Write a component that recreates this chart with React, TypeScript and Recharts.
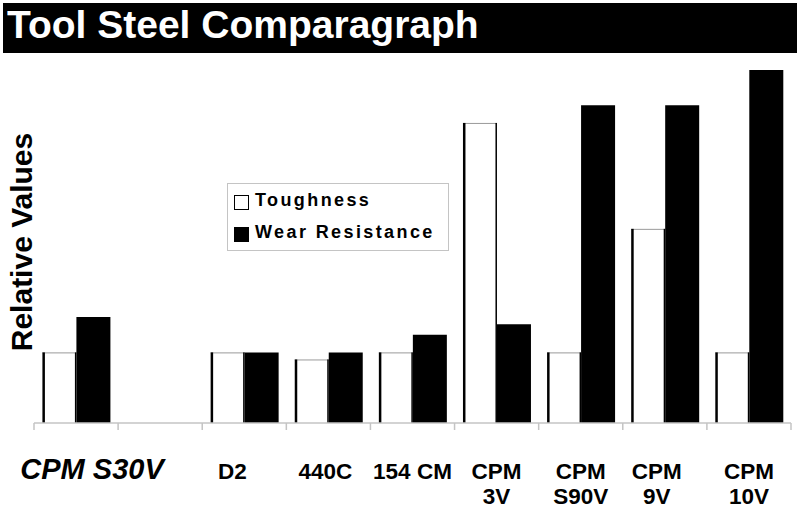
import { BarChart, Bar, XAxis, YAxis, Legend } from 'recharts'

const categories = ['CPM S30V', 'blank', 'D2', '440C', '154 CM', 'CPM 3V', 'CPM S90V', 'CPM 9V', 'CPM 10V']
const tickLabels = [['CPM S30V'], [], ['D2'], ['440C'], ['154 CM'], ['CPM', '3V'], ['CPM', 'S90V'], ['CPM', '9V'], ['CPM', '10V']]
const toughness = [2, null, 2, 1.8, 2, 8.5, 2, 5.5, 2]
const wearResistance = [3, null, 2, 2, 2.5, 2.8, 9, 9, 10]

const data = categories.map((name, i) => ({
  name,
  toughness: toughness[i],
  wear: wearResistance[i],
}))

const FONT = '"Liberation Sans", Arial, sans-serif'
const AXIS_GREY = '#c4c4c4'

// small horizontal nudges so the labels sit where the original has them
const labelNudge: Record<string, number> = { 'CPM S30V': 16, D2: -12, '440C': -3, 'CPM 9V': -8 }

function WhiteBar(props: any) {
  const { x, y, width, height } = props
  if (!height || height <= 0) return null
  return (
    <g>
      <rect x={x} y={y} width={width} height={height} fill="#fff" />
      <line x1={x} x2={x + width} y1={y + 0.5} y2={y + 0.5} stroke="#9a9a9a" strokeWidth={1} />
      <rect x={x} y={y} width={2.5} height={height} fill="#000" />
      <rect x={x + width - 1.5} y={y} width={1.5} height={height} fill="#000" />
    </g>
  )
}

function CategoryTick(props: any) {
  const { x, y, payload, index, visibleTicksCount } = props
  const half = payload.offset || 42
  const lines = tickLabels[index] || []
  const first = payload.value === 'CPM S30V'
  const dx = labelNudge[payload.value] || 0
  return (
    <g>
      <line x1={x - half} x2={x - half} y1={y} y2={y + 7} stroke={AXIS_GREY} strokeWidth={1.5} />
      {index === visibleTicksCount - 1 && (
        <line x1={x + half} x2={x + half} y1={y} y2={y + 7} stroke={AXIS_GREY} strokeWidth={1.5} />
      )}
      {lines.map((line: string, i: number) => (
        <text
          key={i}
          x={x + dx}
          y={y + 56 + i * 25}
          textAnchor="middle"
          fontFamily={FONT}
          fontWeight="bold"
          fontStyle={first ? 'italic' : 'normal'}
          fontSize={first ? 29 : 22.5}
          fill="#000"
        >
          {line}
        </text>
      ))}
    </g>
  )
}

function LegendBox() {
  const item = (label: string, filled: boolean) => (
    <div style={{ display: 'flex', alignItems: 'center', height: 32 }}>
      <span
        style={{
          display: 'inline-block',
          width: 13,
          height: 13,
          background: filled ? '#000' : '#fff',
          border: '1.5px solid #000',
          marginRight: 6,
          marginTop: 4,
        }}
      />
      <span style={{ fontFamily: FONT, fontWeight: 'bold', fontSize: 18, letterSpacing: 2.4, color: '#000' }}>
        {label}
      </span>
    </div>
  )
  return (
    <div
      style={{
        width: 214,
        height: 66,
        border: `1px solid ${AXIS_GREY}`,
        boxSizing: 'content-box',
        padding: '0 0 0 6px',
        background: '#fff',
        textAlign: 'left',
      }}
    >
      {item('Toughness', false)}
      {item('Wear Resistance', true)}
    </div>
  )
}

export default function App() {
  return (
    <div style={{ position: 'absolute', left: 0, top: 0, width: 800, height: 511, background: '#fff' }}>
      <div
        style={{
          position: 'absolute',
          left: 3,
          top: 3,
          width: 794,
          height: 50,
          background: '#000',
          color: '#fff',
          fontFamily: FONT,
          fontWeight: 'bold',
          fontSize: 39,
          lineHeight: '43px',
          paddingLeft: 4,
          boxSizing: 'border-box',
          whiteSpace: 'nowrap',
        }}
      >
        Tool Steel Comparagraph
      </div>
      <BarChart
        width={800}
        height={511}
        data={data}
        margin={{ top: 70, right: 9, bottom: 0, left: 34 }}
        barCategoryGap="10%"
        barGap={0}
      >
        <XAxis
          dataKey="name"
          height={88}
          interval={0}
          tickSize={0}
          tickMargin={0}
          tickLine={false}
          axisLine={{ stroke: AXIS_GREY, strokeWidth: 1.5 }}
          tick={<CategoryTick />}
        />
        <YAxis
          width={0}
          domain={[0, 10]}
          tick={false}
          tickLine={false}
          axisLine={{ stroke: AXIS_GREY, strokeWidth: 1.5 }}
        />
        <Legend
          layout="vertical"
          align="center"
          verticalAlign="middle"
          wrapperStyle={{ position: 'absolute', left: 227, top: 183, width: 'auto', height: 'auto' }}
          content={() => <LegendBox />}
        />
        <Bar dataKey="toughness" name="Toughness" fill="#fff" shape={<WhiteBar />} isAnimationActive={false} />
        <Bar dataKey="wear" name="Wear Resistance" fill="#000" isAnimationActive={false} />
      </BarChart>
      <svg
        width={40}
        height={300}
        style={{ position: 'absolute', left: 0, top: 90, pointerEvents: 'none' }}
      >
        <text
          x={32}
          y={152}
          transform="rotate(-90, 32, 152)"
          textAnchor="middle"
          fontFamily={FONT}
          fontWeight="bold"
          fontSize={30}
          fill="#000"
        >
          Relative Values
        </text>
      </svg>
    </div>
  )
}
